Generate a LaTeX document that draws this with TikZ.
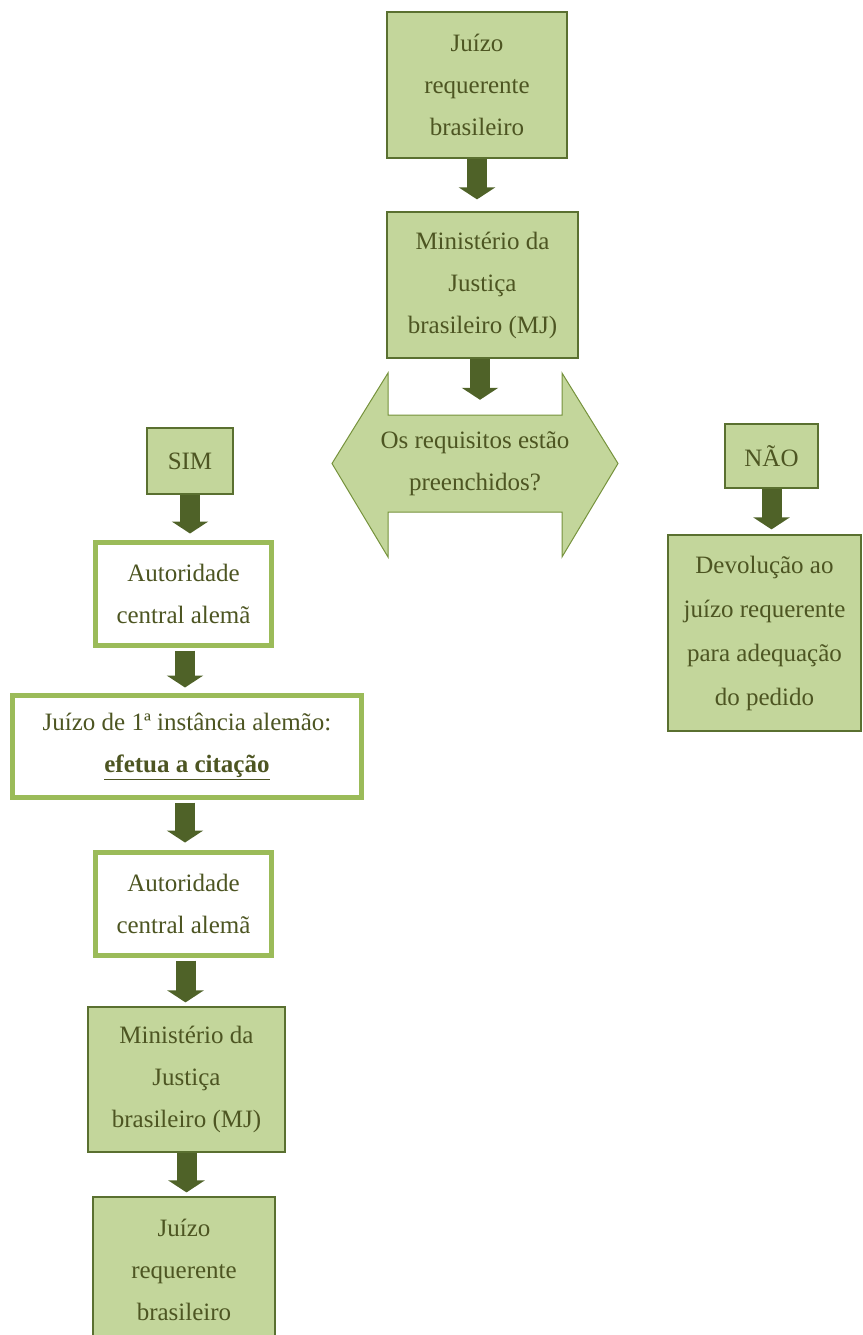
\documentclass[tikz,border=0pt]{standalone}
\usepackage{fontspec}
\setmainfont{Liberation Serif}
\usetikzlibrary{arrows.meta,calc}
\pgfdeclarelayer{background}
\pgfsetlayers{background,main}
\definecolor{fillg}{HTML}{C3D69B}
\definecolor{edgeg}{HTML}{5A7030}
\definecolor{dblg}{HTML}{76923C}
\definecolor{thickg}{HTML}{9BBB59}
\definecolor{arrowg}{HTML}{4F6228}
\definecolor{txtc}{HTML}{4D5522}
\begin{document}
\begin{tikzpicture}[x=1pt,y=-1pt,
  txtfont/.style={font=\fontsize{25}{42}\selectfont, text=txtc, align=center},
  fbox/.style={txtfont, draw=edgeg, line width=1.2pt, fill=fillg, inner sep=0pt},
  wbox/.style={txtfont, draw=thickg, line width=5pt, fill=white, inner sep=0pt},
  blk/.style={draw=arrowg, line width=20pt, -{Triangle[width=36pt,length=12pt]}, shorten >=#1},
  blk/.default=10pt]
\useasboundingbox (0,0) rectangle (862,1335);

% right column
\node[fbox, minimum width=180pt, minimum height=146pt] (j1) at (477,85) {Juízo\\requerente\\brasileiro};
\node[fbox, minimum width=191pt, minimum height=146pt] (m1) at (482.5,285) {Ministério da\\Justiça\\brasileiro (MJ)};
\node[txtfont, minimum height=97pt, inner sep=0pt] (q) at (475,463.5) {Os requisitos estão\\preenchidos?};
\begin{pgfonlayer}{background}
\path[draw=dblg, line width=1pt, fill=fillg, line join=miter]
  ($(q.center)+(-143,0)$) -- ($(q.center)+(-87,-90.5)$) -- ($(q.center)+(-87,-48.5)$)
  -- ($(q.center)+(87,-48.5)$) -- ($(q.center)+(87,-90.5)$) -- ($(q.center)+(143,0)$)
  -- ($(q.center)+(87,93.5)$) -- ($(q.center)+(87,48.5)$) -- ($(q.center)+(-87,48.5)$)
  -- ($(q.center)+(-87,93.5)$) -- cycle;
\end{pgfonlayer}

\node[fbox, minimum width=93pt, minimum height=64pt] (nao) at (771.5,456) {NÃO};
\node[fbox, minimum width=193pt, minimum height=196pt, font=\fontsize{25}{44}\selectfont] (dev) at (764.5,633) {Devolução ao\\juízo requerente\\para adequação\\do pedido};

% left column
\node[fbox, minimum width=86pt, minimum height=66pt] (sim) at (190,461) {SIM};
\node[wbox, minimum width=176pt, minimum height=103pt] (aut1) at (183.5,594) {Autoridade\\central alemã};
\node[wbox, minimum width=349pt, minimum height=102pt] (ji) at (187,746.5) {Juízo de 1ª instância alemão:\\\underline{\textbf{efetua a citação}}};
\node[wbox, minimum width=176pt, minimum height=103pt] (aut2) at (183.5,904) {Autoridade\\central alemã};
\node[fbox, minimum width=197pt, minimum height=145pt] (m2) at (186.5,1079.5) {Ministério da\\Justiça\\brasileiro (MJ)};
\node[fbox, minimum width=182pt, minimum height=146pt] (j2) at (184,1270) {Juízo\\requerente\\brasileiro};

% connectors
\draw[blk=12pt] (j1.south) -- (j1.south |- m1.north);
\draw[blk=15pt] ([xshift=-2.5pt]m1.south) -- ([xshift=-2.5pt]m1.south |- q.north);
\draw[blk=6.5pt] (sim.south) -- (sim.south |- aut1.north);
\draw[blk=5.5pt, shorten <=2.5pt] ([xshift=1.5pt]aut1.south) -- ([xshift=1.5pt]aut1.south |- ji.north);
\draw[blk=7.5pt, shorten <=2.5pt] ([xshift=-2pt]ji.south) -- ([xshift=-2pt]ji.south |- aut2.north);
\draw[blk=4pt, shorten <=2.5pt] ([xshift=2pt]aut2.south) -- ([xshift=2pt]aut2.south |- m2.north);
\draw[blk=4pt] (m2.south) -- (m2.south |- j2.north);
\draw[blk=5pt] (nao.south) -- (nao.south |- dev.north);
\end{tikzpicture}
\end{document}
